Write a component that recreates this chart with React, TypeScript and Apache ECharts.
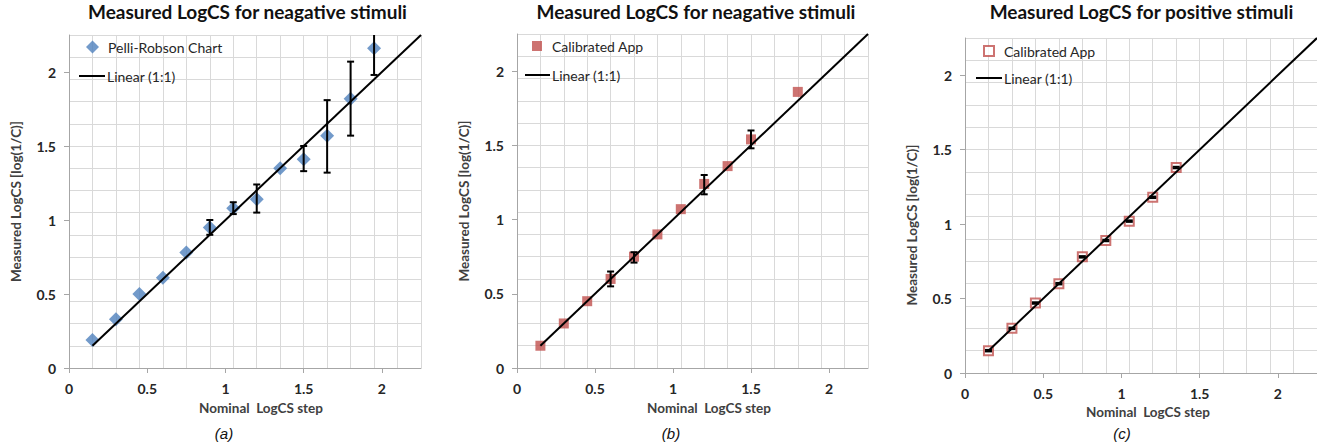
import React, { useEffect, useRef } from "react";
import * as echarts from "echarts";

// ---------- Data ----------
const titles = [
  "Measured LogCS for neagative stimuli",
  "Measured LogCS for neagative stimuli",
  "Measured LogCS for positive stimuli",
];
const captions = ["(a)", "(b)", "(c)"];
const xAxisName = "Nominal  LogCS step";
const yAxisName = "Measured LogCS [log(1/C)]";
const seriesNames = ["Pelli-Robson Chart", "Calibrated App", "Calibrated App"];
const lineName = "Linear (1:1)";

// Panel (a): Pelli-Robson chart, negative stimuli
const xA = [0.15, 0.3, 0.45, 0.6, 0.75, 0.9, 1.05, 1.2, 1.35, 1.5, 1.65, 1.8, 1.95];
const yA = [0.19, 0.33, 0.5, 0.61, 0.78, 0.95, 1.08, 1.14, 1.35, 1.41, 1.57, 1.82, 2.16];
const errAx = [0.9, 1.05, 1.2, 1.5, 1.65, 1.8, 1.95];
const errAlo = [0.9, 1.04, 1.05, 1.33, 1.32, 1.57, 1.98];
const errAhi = [1.0, 1.12, 1.24, 1.5, 1.81, 2.07, 2.34];

// Panel (b): Calibrated App, negative stimuli
const xB = [0.15, 0.3, 0.45, 0.6, 0.75, 0.9, 1.05, 1.2, 1.35, 1.5, 1.8];
const yB = [0.15, 0.3, 0.45, 0.6, 0.75, 0.9, 1.07, 1.24, 1.36, 1.54, 1.86];
const errBx = [0.6, 0.75, 1.2, 1.5];
const errBlo = [0.55, 0.71, 1.17, 1.48];
const errBhi = [0.65, 0.78, 1.3, 1.6];

// Panel (c): Calibrated App, positive stimuli
const xC = [0.15, 0.3, 0.45, 0.6, 0.75, 0.9, 1.05, 1.2, 1.35];
const yC = [0.15, 0.3, 0.47, 0.6, 0.78, 0.89, 1.02, 1.18, 1.38];
const errCx = [0.15, 0.3, 0.45, 0.6, 0.75, 0.9, 1.05, 1.2, 1.35];
const errClo = [0.145, 0.295, 0.465, 0.595, 0.775, 0.885, 1.015, 1.175, 1.375];
const errChi = [0.155, 0.305, 0.475, 0.605, 0.785, 0.895, 1.025, 1.185, 1.385];

// 1:1 reference line end points
const lineX = [0.15, 2.25];

// axis scale
const axisMin = 0;
const axisMax = 2.25;
const gridStep = 0.15;
const labelStep = 0.5;

// ---------- Styling / layout ----------
const BLUE = "#4F81BD";
const RED = "#C0504D";
const GRIDC = "#D9D9D9";
const AXISC = "#A6A6A6";
const FONT = "Lato";

const grids = [
  { left: 69, top: 35, width: 352, height: 333 },
  { left: 517, top: 34, width: 351, height: 334 },
  { left: 965, top: 38, width: 353, height: 335 },
];
const titleCenters = [247.5, 696, 1141.5];
const captionCenters = [224, 671, 1122];
const xNamePad = [32, 33, 14];
const xNameGap = [33, 33, 29];
const yNamePadRight = [0, 0, 39];

const legendPos = [
  { mk: { left: 86, top: 40, w: 13, h: 13, pad: 4 }, ln: { left: 79, top: 69, w: 26 } },
  { mk: { left: 532, top: 39, w: 10, h: 10, pad: 5 }, ln: { left: 525, top: 68, w: 25 } },
  { mk: { left: 983, top: 44, w: 10, h: 10, pad: 5 }, ln: { left: 976, top: 71, w: 26 } },
];

function pairs(xs: number[], ys: number[]) {
  return xs.map((x, i) => [x, ys[i]]);
}
function triples(xs: number[], lo: number[], hi: number[]) {
  return xs.map((x, i) => [x, lo[i], hi[i]]);
}

const errorRender = (params: any, api: any) => {
  const x = api.value(0);
  const lo = api.value(1);
  const hi = api.value(2);
  const cs = params.coordSys;
  const pTop = api.coord([x, hi]);
  const pBot = api.coord([x, lo]);
  const w = 3.5;
  const style = { stroke: "#000", lineWidth: 2 };
  let topY = pTop[1];
  let topCap = true;
  if (topY < cs.y) {
    topY = cs.y;
    topCap = false;
  }
  const children: any[] = [
    { type: "line", shape: { x1: pTop[0], y1: topY, x2: pBot[0], y2: pBot[1] }, style },
    { type: "line", shape: { x1: pBot[0] - w, y1: pBot[1], x2: pBot[0] + w, y2: pBot[1] }, style },
  ];
  if (topCap) {
    children.push({ type: "line", shape: { x1: pTop[0] - w, y1: topY, x2: pTop[0] + w, y2: topY }, style });
  }
  return { type: "group", children };
};

const labelFmt = (v: number) => {
  const r = Math.round(v * 100) / 100;
  if (Math.abs(r / labelStep - Math.round(r / labelStep)) < 1e-6) return String(r);
  return "";
};

function buildOption() {
  const xAxis: any[] = [];
  const yAxis: any[] = [];
  const series: any[] = [];
  const legend: any[] = [];
  const graphic: any[] = [];
  const title: any[] = [];

  const panels = [
    { sx: xA, sy: yA, ex: errAx, elo: errAlo, ehi: errAhi, symbol: "diamond", size: 14, style: { color: BLUE } },
    { sx: xB, sy: yB, ex: errBx, elo: errBlo, ehi: errBhi, symbol: "rect", size: 10, style: { color: RED } },
    {
      sx: xC, sy: yC, ex: errCx, elo: errClo, ehi: errChi, symbol: "rect", size: 9,
      style: { color: "#FFFFFF", borderColor: RED, borderWidth: 2 },
    },
  ];

  const tickLabel = { show: true, fontSize: 14, fontWeight: "bold", color: "#262626", fontFamily: FONT, formatter: labelFmt, showMaxLabel: false };

  panels.forEach((p, i) => {
    // grid-line axes
    xAxis.push({
      type: "value", gridIndex: i, position: "bottom", min: axisMin, max: axisMax, interval: gridStep,
      axisLine: { show: false }, axisTick: { show: false }, axisLabel: { show: false },
      splitLine: { show: true, lineStyle: { color: GRIDC, width: 1 } },
    });
    yAxis.push({
      type: "value", gridIndex: i, position: "left", min: axisMin, max: axisMax, interval: gridStep,
      axisLine: { show: false }, axisTick: { show: false }, axisLabel: { show: false },
      splitLine: { show: true, lineStyle: { color: GRIDC, width: 1 } },
    });
    // labelled axes
    xAxis.push({
      type: "value", gridIndex: i, position: "bottom", min: axisMin, max: axisMax, interval: labelStep,
      splitLine: { show: false },
      axisLine: { show: true, onZero: false, lineStyle: { color: AXISC, width: 1 } },
      axisTick: { show: true, length: 5, lineStyle: { color: AXISC } },
      axisLabel: { ...tickLabel, margin: 13 },
      name: xAxisName, nameLocation: "middle", nameGap: xNameGap[i],
      nameTextStyle: { fontSize: 13.5, fontWeight: "bold", color: "#404040", fontFamily: FONT, padding: [0, 0, 0, xNamePad[i]] },
    });
    yAxis.push({
      type: "value", gridIndex: i, position: "left", min: axisMin, max: axisMax, interval: labelStep,
      splitLine: { show: false },
      axisLine: { show: true, onZero: false, lineStyle: { color: AXISC, width: 1 } },
      axisTick: { show: true, length: 5, lineStyle: { color: AXISC } },
      axisLabel: { ...tickLabel, margin: 13 },
      name: yAxisName, nameLocation: "middle", nameGap: 46,
      nameTextStyle: { fontSize: 13.5, fontWeight: "bold", color: "#404040", fontFamily: FONT, padding: [0, yNamePadRight[i], 0, 0] },
    });

    const xi = i * 2 + 1;
    const yi = i * 2 + 1;

    series.push({
      type: "scatter", name: seriesNames[i], xAxisIndex: xi, yAxisIndex: yi,
      symbol: p.symbol, symbolSize: p.size, itemStyle: p.style, z: 2,
      data: pairs(p.sx, p.sy),
    });
    series.push({
      type: "custom", name: "err" + i, xAxisIndex: xi, yAxisIndex: yi, z: 3,
      renderItem: errorRender, encode: { x: 0, y: [1, 2] },
      data: triples(p.ex, p.elo, p.ehi),
    });
    series.push({
      type: "line", name: lineName, xAxisIndex: xi, yAxisIndex: yi, z: 4,
      symbol: "none", lineStyle: { color: "#000", width: 2 }, itemStyle: { color: "#000" },
      data: pairs(lineX, lineX),
    });

    const lp = legendPos[i];
    const markerItem: any = { name: seriesNames[i] };
    if (i === 2) {
      markerItem.icon = "rect";
      markerItem.itemStyle = { color: "#FFFFFF", borderColor: RED, borderWidth: 2 };
    }
    legend.push({
      left: lp.mk.left, top: lp.mk.top, padding: 0, orient: "vertical", selectedMode: false,
      itemWidth: lp.mk.w, itemHeight: lp.mk.h,
      textStyle: { fontSize: 14, color: "#262626", fontFamily: FONT, padding: [0, 0, 0, lp.mk.pad] },
      data: [markerItem],
    });
    legend.push({
      left: lp.ln.left, top: lp.ln.top, padding: 0, orient: "vertical", selectedMode: false,
      itemWidth: lp.ln.w, itemHeight: 2,
      textStyle: { fontSize: 14, color: "#262626", fontFamily: FONT, padding: [0, 0, 0, -3] },
      data: [{ name: lineName, icon: "rect", itemStyle: { color: "#000", borderWidth: 0 } }],
    });

    title.push({
      text: titles[i], left: titleCenters[i], top: 2, textAlign: "center", padding: 0,
      textStyle: { fontSize: 19, fontWeight: "bold", color: "#111", fontFamily: FONT },
    });

    graphic.push({
      type: "text", x: captionCenters[i], y: 433,
      style: {
        text: captions[i], align: "center", verticalAlign: "middle",
        fontSize: 15, fontStyle: "italic", fontFamily: "Liberation Sans", fill: "#111",
      },
    });
  });

  return {
    animation: false,
    backgroundColor: "#FFFFFF",
    textStyle: { fontFamily: FONT },
    title,
    grid: grids.map((g) => ({ ...g, containLabel: false })),
    xAxis,
    yAxis,
    legend,
    series,
    graphic,
  };
}

export default function App() {
  const ref = useRef<HTMLDivElement>(null);
  useEffect(() => {
    if (!ref.current) return;
    const chart = echarts.init(ref.current, undefined, { renderer: "svg" });
    chart.setOption(buildOption() as any);
    return () => chart.dispose();
  }, []);
  return (
    <div
      ref={ref}
      style={{ position: "absolute", left: 0, top: 0, width: 1317, height: 444, background: "#fff" }}
    />
  );
}
